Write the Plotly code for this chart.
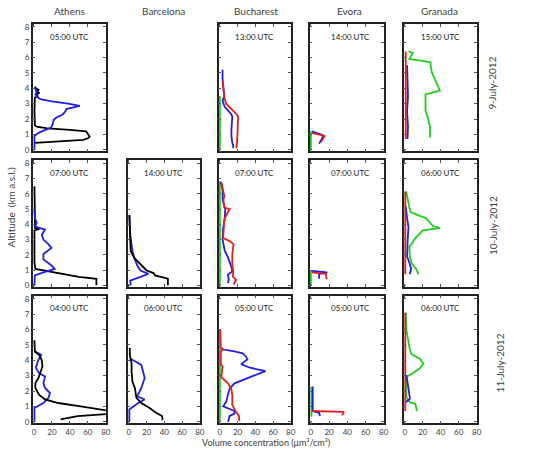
import plotly.graph_objects as go

# ---------------- data (altitude km, volume concentration um3/cm3) ----------------
stations = ["Athens", "Barcelona", "Bucharest", "Evora", "Granada"]
dates = ["9-July-2012", "10-July-2012", "11-July-2012"]
x_ticks = [0, 20, 40, 60, 80]
y_ticks = [0, 1, 2, 3, 4, 5, 6, 7, 8]

# Row 1 : 9 July 2012
ath09_time = "05:00 UTC"
ath09_black_z = [0.45, 0.55, 0.65, 0.75, 0.85, 0.95, 1.05, 1.2, 1.3, 1.4, 1.5, 1.6, 2.5, 3.4, 3.5, 3.6, 3.7, 3.8, 3.9, 4.0, 4.1]
ath09_black_v = [1, 25, 55, 60, 62, 61, 60, 58, 40, 15, 3, 1, 0.5, 1, 4, 2, 6, 3, 5, 2, 1]
ath09_blue_z = [0, 0.9, 1.1, 1.3, 1.45, 1.7, 1.95, 2.1, 2.3, 2.5, 2.65, 2.85, 3.0, 3.15, 3.3, 3.45, 3.6, 3.8, 4.0]
ath09_blue_v = [0.5, 0.5, 5, 12, 19, 21, 22, 25, 32, 35, 36, 51, 38, 20, 7, 3, 2, 3, 1]

buc09_time = "13:00 UTC"
buc09_green_z = [0, 3.5]
buc09_green_v = [0, 0]
buc09_blue_z = [0.1, 0.3, 0.45, 0.7, 0.9, 1.3, 1.7, 2.15, 2.3, 2.45, 2.6, 2.8, 3.0, 3.2, 3.5, 4.0, 4.6, 5.2]
buc09_blue_v = [15, 15, 14, 13, 13, 13, 13.5, 14, 13, 11, 8, 5.5, 4, 3, 5, 4, 3, 3]
buc09_red_z = [0.1, 0.3, 0.6, 1.0, 1.3, 1.7, 2.15, 2.3, 2.55, 2.8, 3.0, 3.4, 4.0, 4.45]
buc09_red_v = [18.5, 19, 19.5, 19.8, 19.8, 20, 20.5, 19, 15, 11, 7, 5, 4, 3]

evo09_time = "14:00 UTC"
evo09_green_z = [0, 1.2]
evo09_green_v = [0, 0]
evo09_blue_z = [1.2, 1.05, 0.95, 0.7, 0.4]
evo09_blue_v = [1, 8, 13.5, 12, 9]
evo09_red_z = [1.1, 1.0, 0.9, 0.7, 0.5]
evo09_red_v = [1, 8, 15, 13, 11]

gra09_time = "15:00 UTC"
gra09_green_z = [0.8, 1.2, 1.5, 2.0, 2.55, 3.0, 3.6, 3.85, 4.1, 4.45, 4.8, 5.05, 5.4, 5.7, 5.8, 5.9, 6.1, 6.3, 6.4]
gra09_green_v = [28, 28, 28, 26, 23, 23, 23, 39, 37, 34, 32, 30, 29, 28.5, 18, 5, 7, 9, 4]
gra09_blue_z = [0.7, 1.5, 2.5, 3.5, 4.5, 5.5]
gra09_blue_v = [3, 3.5, 2.5, 3.5, 3, 2.5]
gra09_red_z = [0.7, 6.4]
gra09_red_v = [1, 1]

# Row 2 : 10 July 2012
ath10_time = "07:00 UTC"
ath10_black_z = [0.0, 0.43, 0.55, 0.8, 1.07, 1.5, 2.5, 3.6, 3.7, 3.75, 4.5, 5.5, 6.5]
ath10_black_v = [69.5, 69.5, 50, 25, 1.5, 0.5, 0.5, 0.5, 6, 1, 1, 0.5, 0.5]
ath10_blue_z = [0, 0.65, 0.85, 1.07, 1.3, 1.7, 2.05, 2.45, 2.7, 3.0, 3.3, 3.65, 3.85, 4.1, 4.4, 4.9]
ath10_blue_v = [0.5, 1, 10.5, 23, 19.5, 10.5, 10.5, 19.5, 16, 10.5, 8.7, 12.3, 1.5, 3, 1, 0.5]

bcn10_time = "14:00 UTC"
bcn10_black_z = [0, 0.43, 0.65, 0.8, 0.97, 1.2, 1.4, 1.8, 2.25, 2.9, 3.8, 4.6]
bcn10_black_v = [44, 44, 29.5, 27.7, 20, 16, 13, 6, 2, 1.5, 1, 0.5]
bcn10_blue_z = [0, 0.3, 0.55, 0.75, 0.97, 1.3, 1.8, 2.25, 3.3, 4.6]
bcn10_blue_v = [2, 1.5, 13, 22, 13, 9.5, 6, 4, 1.5, 0.5]

buc10_time = "07:00 UTC"
buc10_green_z = [0, 6.8]
buc10_green_v = [0, 0]
buc10_blue_z = [0.15, 0.36, 0.7, 0.9, 1.2, 1.85, 2.25, 3.0, 3.7, 4.35, 5.0, 5.6, 6.25, 6.8]
buc10_blue_v = [9, 10, 9, 14, 13, 9, 5.5, 3, 3.5, 5.5, 6, 3, 3, 1]
buc10_red_z = [0.05, 0.36, 0.57, 0.9, 1.4, 2.05, 2.7, 2.9, 3.1, 3.85, 4.35, 5.0, 5.1, 5.6, 5.85, 6.25, 6.7]
buc10_red_v = [15.4, 18.4, 14.7, 15, 14, 14, 15.4, 11, 3.7, 4, 5, 11, 5, 4, 5, 3.5, 2]

evo10_time = "07:00 UTC"
evo10_green_z = [0, 0.95]
evo10_green_v = [0, 0]
evo10_blue_z = [0.95, 0.85, 0.75, 0.43]
evo10_blue_v = [1, 18, 9, 9]
evo10_red_z = [0.85, 0.75, 0.65, 0.4]
evo10_red_v = [1, 16.4, 16.5, 17.5]

gra10_time = "06:00 UTC"
gra10_green_z = [0.72, 1.05, 1.4, 1.9, 2.55, 2.75, 3.05, 3.4, 3.6, 3.75, 3.9, 4.1, 4.4, 4.6, 4.8, 5.1, 5.65, 6.15]
gra10_green_v = [15.3, 12.7, 8, 5.5, 5, 8, 11, 17.5, 20, 39, 31, 28, 23.6, 14.5, 6.5, 5, 3, 1.5]
gra10_blue_z = [0.72, 1.1, 1.4, 1.9, 2.8, 3.8, 4.4, 5.2]
gra10_blue_v = [5.5, 7, 5.5, 2.5, 3, 4, 2.5, 1]
gra10_red_z = [0.72, 6.15]
gra10_red_v = [0.5, 0.5]

# Row 3 : 11 July 2012
ath11_time = "04:00 UTC"
ath11_black_z = [0.15, 0.37, 0.52, 0.7, 1.0, 1.22, 1.45, 1.75, 2.2, 2.5, 2.85, 3.25, 3.6, 4.0, 4.35, 4.55, 5.0, 5.3]
ath11_black_v = [29.7, 48.5, 85, 85, 52, 27, 12.3, 5.8, 1.5, 1.5, 5, 6.9, 9.4, 8.7, 5.8, 1, 1, 0.5]
ath11_blue_z = [0, 0.9, 1.22, 1.55, 1.87, 2.2, 2.5, 2.95, 3.15, 3.5, 4.0, 4.35, 4.6]
ath11_blue_v = [0.5, 0.5, 10.5, 16, 17.8, 12.3, 10.5, 12.3, 5.8, 2, 4.7, 8, 0.5]

bcn11_time = "06:00 UTC"
bcn11_black_z = [0.1, 0.37, 0.58, 0.9, 1.22, 1.55, 2.2, 2.6, 3.27, 3.8, 4.35, 4.8]
bcn11_black_v = [38, 37.4, 30.7, 23.3, 14, 8.5, 6.7, 4, 3, 3, 1, 1]
bcn11_blue_z = [0, 0.8, 1.22, 1.45, 1.65, 2.2, 2.85, 3.27, 3.7, 4.0, 4.1]
bcn11_blue_v = [0.5, 0.5, 10.4, 17.8, 9.3, 14, 17.8, 16, 14, 4.8, 1]

buc11_time = "05:00 UTC"
buc11_green_z = [0, 6.0]
buc11_green_v = [0, 0]
buc11_blue_z = [0.0, 0.38, 0.53, 0.7, 1.0, 1.32, 1.75, 2.15, 2.5, 2.8, 3.0, 3.3, 3.53, 3.75, 4.05, 4.25, 4.45, 4.58, 4.7, 4.8]
buc11_blue_v = [9.2, 11, 16.5, 16.5, 3.7, 7.3, 9, 11, 16.5, 29.4, 38.6, 51.5, 33, 24, 31, 29.4, 25.7, 16.5, 3.7, 2]
buc11_red_z = [0.05, 0.38, 0.7, 1.1, 1.75, 2.15, 2.5, 2.8, 2.9, 3.6, 3.75, 4.58, 4.7, 4.8, 6.0]
buc11_red_v = [22, 21.5, 17.6, 14, 14, 12.9, 9.2, 3.7, 1.5, 3, 1, 1, 3.7, 1, 0.5]

evo11_time = "05:00 UTC"
evo11_green_z = [0.33, 2.3]
evo11_green_v = [0.5, 0.5]
evo11_blue_z = [2.3, 0.7, 0.58, 0.37]
evo11_blue_v = [2, 2, 9, 10]
evo11_red_z = [0.7, 0.65, 0.55, 0.44]
evo11_red_v = [1.5, 35.6, 36, 34]

gra11_time = "06:00 UTC"
gra11_green_z = [0.7, 1.17, 1.27, 1.58, 2.94, 3.15, 3.46, 3.77, 4.08, 4.4, 4.7, 5.33, 5.96, 7.1]
gra11_green_v = [13.5, 11.6, 5.5, 1.8, 1.8, 9, 16.4, 20.7, 17, 7.3, 5.5, 3.5, 1.8, 1]
gra11_blue_z = [1.27, 1.48, 1.58, 2.0, 3.04]
gra11_blue_v = [1, 5.5, 5.5, 4.4, 1.8]
gra11_red_z = [0.7, 7.1]
gra11_red_v = [0.5, 0.5]

# ---------------- figure ----------------
COL = {"black": "#000000", "blue": "#1f1fe6", "red": "#e81c1c", "green": "#19d219"}

panels = {
    (0, 0): (ath09_time, [("black", ath09_black_v, ath09_black_z), ("blue", ath09_blue_v, ath09_blue_z)]),
    (0, 2): (buc09_time, [("green", buc09_green_v, buc09_green_z), ("blue", buc09_blue_v, buc09_blue_z), ("red", buc09_red_v, buc09_red_z)]),
    (0, 3): (evo09_time, [("green", evo09_green_v, evo09_green_z), ("blue", evo09_blue_v, evo09_blue_z), ("red", evo09_red_v, evo09_red_z)]),
    (0, 4): (gra09_time, [("green", gra09_green_v, gra09_green_z), ("blue", gra09_blue_v, gra09_blue_z), ("red", gra09_red_v, gra09_red_z)]),
    (1, 0): (ath10_time, [("black", ath10_black_v, ath10_black_z), ("blue", ath10_blue_v, ath10_blue_z)]),
    (1, 1): (bcn10_time, [("blue", bcn10_blue_v, bcn10_blue_z), ("black", bcn10_black_v, bcn10_black_z)]),
    (1, 2): (buc10_time, [("green", buc10_green_v, buc10_green_z), ("blue", buc10_blue_v, buc10_blue_z), ("red", buc10_red_v, buc10_red_z)]),
    (1, 3): (evo10_time, [("green", evo10_green_v, evo10_green_z), ("blue", evo10_blue_v, evo10_blue_z), ("red", evo10_red_v, evo10_red_z)]),
    (1, 4): (gra10_time, [("green", gra10_green_v, gra10_green_z), ("blue", gra10_blue_v, gra10_blue_z), ("red", gra10_red_v, gra10_red_z)]),
    (2, 0): (ath11_time, [("blue", ath11_blue_v, ath11_blue_z), ("black", ath11_black_v, ath11_black_z)]),
    (2, 1): (bcn11_time, [("blue", bcn11_blue_v, bcn11_blue_z), ("black", bcn11_black_v, bcn11_black_z)]),
    (2, 2): (buc11_time, [("green", buc11_green_v, buc11_green_z), ("blue", buc11_blue_v, buc11_blue_z), ("red", buc11_red_v, buc11_red_z)]),
    (2, 3): (evo11_time, [("green", evo11_green_v, evo11_green_z), ("blue", evo11_blue_v, evo11_blue_z), ("red", evo11_red_v, evo11_red_z)]),
    (2, 4): (gra11_time, [("green", gra11_green_v, gra11_green_z), ("blue", gra11_blue_v, gra11_blue_z), ("red", gra11_red_v, gra11_red_z)]),
}

W, H = 543, 453
col_px = [(32, 106), (128, 201), (220, 293), (312, 387), (407, 481)]
row_px = [(22, 151), (160, 288), (297, 426)]
FONT = "Lato, 'Open Sans', sans-serif"
TXT = "#404040"

fig = go.Figure()
layout = dict(
    width=W, height=H, margin=dict(l=0, r=0, t=0, b=0),
    paper_bgcolor="white", plot_bgcolor="white", showlegend=False,
    font=dict(family=FONT, size=8, color=TXT),
)
annotations = []
idx = 0
for (r, c), (tlabel, series) in panels.items():
    idx += 1
    xa = "xaxis" if idx == 1 else f"xaxis{idx}"
    ya = "yaxis" if idx == 1 else f"yaxis{idx}"
    xr = "x" if idx == 1 else f"x{idx}"
    yr = "y" if idx == 1 else f"y{idx}"
    x0, x1 = col_px[c]
    y0, y1 = row_px[r]
    axis_common = dict(showline=True, linecolor="#222222", linewidth=1.5, mirror="ticks",
                       ticks="inside", ticklen=3, tickwidth=1, tickcolor="#555555",
                       showgrid=False, zeroline=False, tickfont=dict(size=8, color=TXT))
    layout[xa] = dict(domain=[x0 / W, x1 / W], anchor=yr, range=[-1.5, 80],
                      tickvals=x_ticks, showticklabels=(r == 2), **axis_common)
    layout[ya] = dict(domain=[1 - y1 / H, 1 - y0 / H], anchor=xr, range=[-0.1, 8.2],
                      tickvals=y_ticks, showticklabels=(c == 0), **axis_common)
    for color, v, z in series:
        fig.add_trace(go.Scatter(x=v, y=z, mode="lines", xaxis=xr, yaxis=yr,
                                 line=dict(color=COL[color], width=1.8), hoverinfo="skip"))
    annotations.append(dict(text=tlabel, xref=f"{xr} domain", yref=f"{yr} domain",
                            x=0.55 if c == 3 else 0.5, y=0.9, xanchor="center", yanchor="middle",
                            showarrow=False, font=dict(size=8, color="#222222")))

col_centers = [69, 164, 258, 352, 443]
for name, cx in zip(stations, col_centers):
    annotations.append(dict(text=name, xref="paper", yref="paper", x=cx / W, y=1 - 9 / H,
                            xanchor="center", yanchor="middle",
                            showarrow=False, font=dict(size=10, color=TXT)))
date_pos = [(497, 82), (497, 226), (505, 365)]
for d, (px, py) in zip(dates, date_pos):
    annotations.append(dict(text=d, xref="paper", yref="paper", x=px / W, y=1 - py / H,
                            xanchor="center", yanchor="middle",
                            showarrow=False, textangle=-90, font=dict(size=10, color=TXT)))
annotations.append(dict(text="Altitude  (km a.s.l.)", xref="paper", yref="paper",
                        x=10 / W, y=1 - 207 / H, xanchor="center", yanchor="middle",
                        showarrow=False, textangle=-90,
                        font=dict(size=10, color=TXT)))
annotations.append(dict(text="Volume concentration (μm³/cm³)",
                        xref="paper", yref="paper", x=268 / W, y=0,
                        xanchor="center", yanchor="bottom",
                        showarrow=False, font=dict(size=9, color=TXT)))
layout["annotations"] = annotations
fig.update_layout(**layout)
fig.write_html("out.html")
